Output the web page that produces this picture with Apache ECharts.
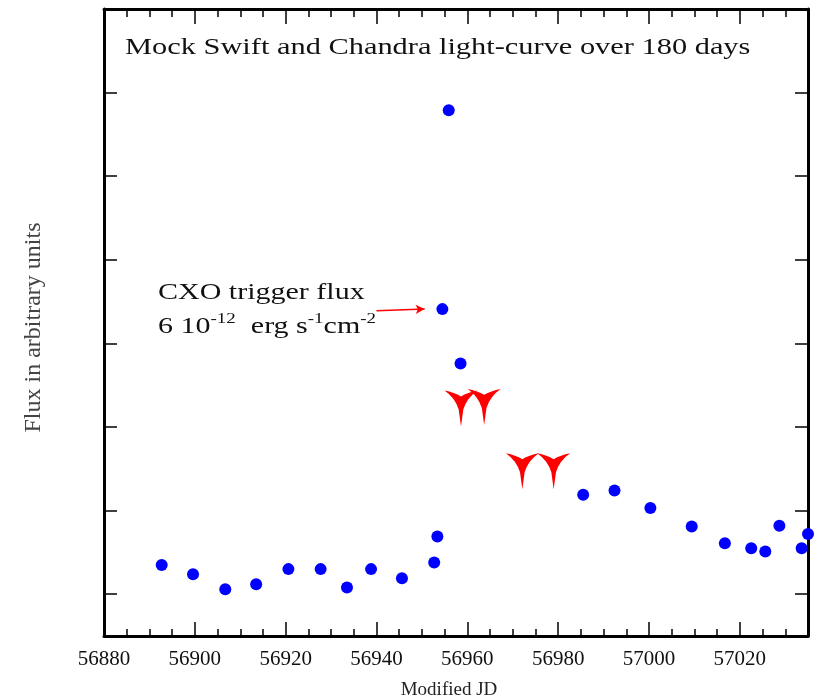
<!DOCTYPE html>
<html><head><meta charset="utf-8">
<script src="https://cdn.jsdelivr.net/npm/echarts@6/dist/echarts.min.js"></script>
<style>html,body{margin:0;padding:0;background:#fff}#c{width:819px;height:697px}</style>
</head><body><div id="c"></div>
<script>
// ---- data ----
const swiftX = [56892.7, 56899.6, 56906.7, 56913.5, 56920.6, 56927.7, 56933.5, 56938.8, 56945.6, 56952.7, 56953.4, 56954.5, 56955.9, 56958.5, 56985.5, 56992.4, 57000.3, 57009.4, 57016.7, 57022.5, 57025.6, 57028.7, 57033.6, 57035.0];
const swiftY = [1.35, 1.24, 1.06, 1.12, 1.30, 1.30, 1.08, 1.30, 1.19, 1.38, 1.69, 4.41, 6.79, 3.76, 2.19, 2.24, 2.03, 1.81, 1.61, 1.55, 1.51, 1.82, 1.55, 1.72];
const limitX = [56958.6, 56963.7, 56972.1, 56979.0];
const limitY = [3.22, 3.24, 2.47, 2.47];
const xRange = [56880, 57035];
const yRange = [0.5, 8];
const yTicks = [1, 2, 3, 4, 5, 6, 7];
const arrowX = [56940.0, 56950.6];
const arrowY = [4.39, 4.41];
const titleText = 'Mock Swift and Chandra light-curve over 180 days';
const xName = 'Modified JD';
const yName = 'Flux in arbitrary units';

const serif = '"Liberation Serif", "Times New Roman", serif';
const chart = echarts.init(document.getElementById('c'));

function xAx(pos, step, len, line, labels) {
  return {
    type: 'value', position: pos, min: xRange[0], max: xRange[1], interval: step,
    axisLine: { show: line, lineStyle: { color: '#000', width: 3 } },
    axisTick: { show: true, inside: true, length: len, lineStyle: { color: '#000', width: 1.5 } },
    axisLabel: labels ? { show: true, showMaxLabel: false, margin: 13, fontFamily: serif, fontSize: 21, color: '#111', formatter: v => String(v) } : { show: false },
    splitLine: { show: false }
  };
}
function yAx(pos) {
  return {
    type: 'value', position: pos, min: yRange[0], max: yRange[1],
    axisLine: { show: true, lineStyle: { color: '#000', width: 3 } },
    axisTick: { show: true, inside: true, length: 13, customValues: yTicks, lineStyle: { color: '#000', width: 1.5 } },
    axisLabel: { show: false },
    splitLine: { show: false }
  };
}
const xMajorBottom = xAx('bottom', 20, 14, true, true);
xMajorBottom.name = xName;
xMajorBottom.nameLocation = 'middle';
xMajorBottom.nameGap = 45;
xMajorBottom.nameTextStyle = { fontFamily: serif, fontSize: 19, color: '#222', padding: [0, 14, 0, 0] };
const yLeft = yAx('left');
yLeft.name = yName;
yLeft.nameLocation = 'middle';
yLeft.nameGap = 58;
yLeft.nameTextStyle = { fontFamily: serif, fontSize: 24, color: '#444', padding: [0, 10, 0, 0] };

const option = {
  animation: false,
  backgroundColor: '#fff',
  grid: { left: 104, right: 11, top: 9, bottom: 61, containLabel: false, outerBoundsMode: 'none' },
  xAxis: [xMajorBottom, xAx('bottom', 5, 7, false, false), xAx('top', 20, 15, true, false), xAx('top', 5, 8, false, false)],
  yAxis: [yLeft, yAx('right')],
  graphic: [
    { type: 'text', x: 125, y: 48, scaleY: 0.78, silent: true,
      style: { text: titleText, fontFamily: serif, fontSize: 30.4, fill: '#111', verticalAlign: 'middle', align: 'left' } },
    { type: 'text', x: 158, y: 293, scaleY: 0.78, silent: true,
      style: { text: 'CXO trigger flux', fontFamily: serif, fontSize: 30, fill: '#111', verticalAlign: 'middle', align: 'left' } },
    { type: 'text', x: 158, y: 327, scaleY: 0.78, silent: true,
      style: { text: '{b|6 10}{s|-12}{b|  erg s}{s|-1}{b|cm}{s|-2}', fill: '#111', verticalAlign: 'middle', align: 'left',
        rich: {
          b: { fontFamily: serif, fontSize: 30, lineHeight: 38, fill: '#111', verticalAlign: 'middle' },
          s: { fontFamily: serif, fontSize: 19, lineHeight: 19, fill: '#111', verticalAlign: 'top' }
        } } }
  ],
  series: [
    {
      type: 'scatter', name: 'Swift', xAxisIndex: 0, yAxisIndex: 0,
      data: swiftX.map((x, i) => [x, swiftY[i]]),
      symbol: 'circle', symbolSize: 12,
      itemStyle: { color: '#0000ff', opacity: 1 },
      markLine: {
        silent: true, animation: false,
        symbol: ['none', 'arrow'], symbolSize: [7, 9],
        label: { show: false },
        lineStyle: { color: '#ff0000', width: 1.5, type: 'solid' },
        data: [[{ coord: [arrowX[0], arrowY[0]] }, { coord: [arrowX[1], arrowY[1]] }]]
      }
    },
    {
      type: 'scatter', name: 'Upper limits', xAxisIndex: 0, yAxisIndex: 0,
      data: limitX.map((x, i) => [x, limitY[i]]),
      symbol: 'path://M0,0 Q30,6 50,18 Q70,6 100,0 Q68,22 57,58 L50,110 L43,58 Q32,22 0,0 Z',
      symbolSize: [33, 36],
      itemStyle: { color: '#ff0000', opacity: 1 }
    }
  ]
};
chart.setOption(option);
</script></body></html>
